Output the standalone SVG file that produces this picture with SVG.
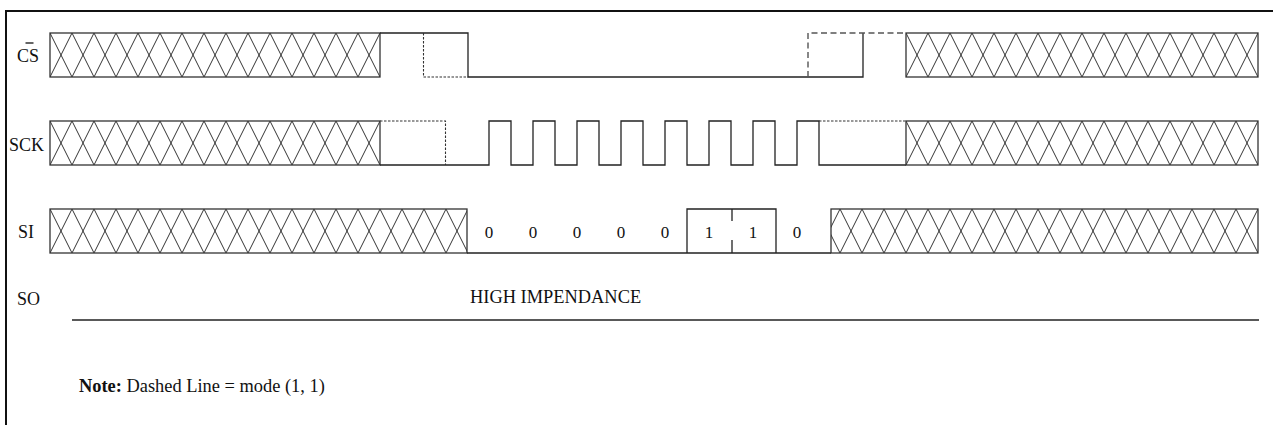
<svg xmlns="http://www.w3.org/2000/svg" width="1273" height="425" viewBox="0 0 1273 425">
<style>
.sig{fill:none;stroke:#222;stroke-width:1.3}
.box{stroke:#333;stroke-width:1.3}
.dot{fill:none;stroke:#333;stroke-width:1.1;stroke-dasharray:2.5,1.5}
.dash{fill:none;stroke:#555;stroke-width:1.4;stroke-dasharray:6,3.5}
.lbl{font-family:"Liberation Serif","Times New Roman",serif;font-size:18px;fill:#111}
.big{font-family:"Liberation Serif","Times New Roman",serif;font-size:18.4px;fill:#111}
.bit{font-family:"Liberation Serif","Times New Roman",serif;font-size:17px;fill:#111;text-anchor:middle}
</style>
<defs>
<pattern id="hatchL" patternUnits="userSpaceOnUse" x="50" y="33" width="22" height="44">
<path d="M0,0 L22,44 M0,44 L22,0" stroke="#333" stroke-width="1" fill="none"/>
</pattern>
<pattern id="hatchR" patternUnits="userSpaceOnUse" x="4" y="33" width="22" height="44">
<path d="M0,0 L22,44 M0,44 L22,0" stroke="#333" stroke-width="1" fill="none"/>
</pattern>
</defs>
<rect width="1273" height="425" fill="#fff"/>
<g id="frame">
<path d="M6,425 V11 H1273" fill="none" stroke="#111" stroke-width="2"/>
</g>
<g id="cs">
<text class="lbl" x="17" y="62">CS</text>
<line x1="25.5" y1="43" x2="33.5" y2="43" stroke="#111" stroke-width="1.3"/>
<rect class="box" x="50" y="33" width="330" height="44" fill="url(#hatchL)"/>
<path class="sig" d="M380,33 H468 V77 H863 V33"/>
<path class="dot" d="M423.5,33 V77 H468"/>
<path class="dash" d="M808,77 V33 H906"/>
<rect class="box" x="906" y="33" width="352" height="44" fill="url(#hatchR)"/>
</g>
<g id="sck">
<text class="lbl" x="9" y="151">SCK</text>
<rect class="box" x="50" y="121" width="330" height="44" fill="url(#hatchL)"/>
<path class="sig" d="M380,165 H489 V121 H511 V165 H533 V121 H555 V165 H577 V121 H599 V165 H621 V121 H643 V165 H665 V121 H687 V165 H709 V121 H731 V165 H753 V121 H775 V165 H797 V121 H819 V165 H906"/>
<path class="dot" d="M380,121 H445.5 V165"/>
<path class="dot" d="M819,121 H906"/>
<rect class="box" x="906" y="121" width="352" height="44" fill="url(#hatchR)"/>
</g>
<g id="si">
<text class="lbl" x="18" y="238">SI</text>
<rect class="box" x="50" y="209" width="417" height="44" fill="url(#hatchL)"/>
<path class="sig" d="M467,253 H831 M687,253 V209 H776 V253 M732,209 V221 M732,240 V253"/>
<text class="bit" x="489" y="238">0</text>
<text class="bit" x="533" y="238">0</text>
<text class="bit" x="577" y="238">0</text>
<text class="bit" x="621" y="238">0</text>
<text class="bit" x="665" y="238">0</text>
<text class="bit" x="709" y="238">1</text>
<text class="bit" x="753" y="238">1</text>
<text class="bit" x="797" y="238">0</text>
<rect class="box" x="831" y="209" width="427" height="44" fill="url(#hatchR)"/>
</g>
<g id="so">
<text class="lbl" x="17" y="305">SO</text>
<text class="big" x="470" y="303">HIGH IMPENDANCE</text>
<line x1="72" y1="320" x2="1259" y2="320" stroke="#222" stroke-width="1.3"/>
</g>
<g id="note">
<text class="big" x="79" y="392"><tspan font-weight="bold">Note:</tspan> Dashed Line = mode (1, 1)</text>
</g>
</svg>
